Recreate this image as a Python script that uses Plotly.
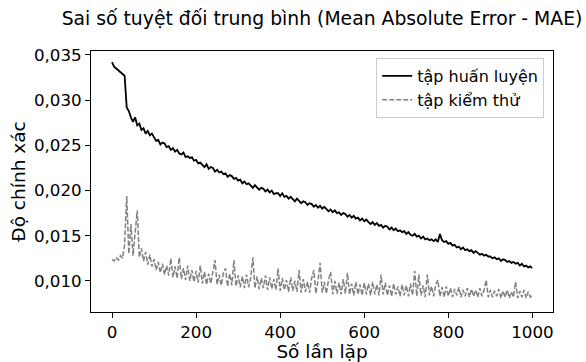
import plotly.graph_objects as go

# Iteration index (sampled every 5 iterations, plus the last one)
iterations = list(range(0, 1000, 5)) + [999]

train_mae = [
    0.0342, 0.0337, 0.0335, 0.0333, 0.0332, 0.0330, 0.0327, 0.0292, 0.0288, 0.0281,
    0.0276, 0.0281, 0.0272, 0.0274, 0.0267, 0.0269, 0.0263, 0.0266, 0.0261, 0.0263,
    0.0259, 0.0255, 0.0256, 0.0251, 0.0253, 0.0252, 0.0248, 0.0249, 0.0245, 0.0247,
    0.0243, 0.0245, 0.0241, 0.0240, 0.0242, 0.0237, 0.0238, 0.0236, 0.0237, 0.0233,
    0.0234, 0.0230, 0.0231, 0.0229, 0.0226, 0.0229, 0.0224, 0.0226, 0.0225, 0.0221,
    0.0223, 0.0220, 0.0221, 0.0218, 0.0219, 0.0215, 0.0217, 0.0216, 0.0213, 0.0214,
    0.0211, 0.0212, 0.0208, 0.0210, 0.0207, 0.0208, 0.0206, 0.0203, 0.0206, 0.0204,
    0.0201, 0.0203, 0.0202, 0.0199, 0.0201, 0.0198, 0.0200, 0.0196, 0.0197, 0.0197,
    0.0194, 0.0197, 0.0193, 0.0194, 0.0191, 0.0193, 0.0190, 0.0188, 0.0191, 0.0189,
    0.0186, 0.0188, 0.0187, 0.0184, 0.0186, 0.0185, 0.0182, 0.0184, 0.0181, 0.0183,
    0.0180, 0.0182, 0.0179, 0.0177, 0.0179, 0.0176, 0.0178, 0.0175, 0.0176, 0.0173,
    0.0175, 0.0174, 0.0171, 0.0173, 0.0170, 0.0172, 0.0169, 0.0170, 0.0167, 0.0169,
    0.0166, 0.0168, 0.0165, 0.0163, 0.0165, 0.0162, 0.0164, 0.0161, 0.0162, 0.0159,
    0.0161, 0.0160, 0.0157, 0.0159, 0.0156, 0.0158, 0.0155, 0.0156, 0.0154, 0.0155,
    0.0152, 0.0154, 0.0151, 0.0150, 0.0152, 0.0149, 0.0150, 0.0147, 0.0149, 0.0146,
    0.0147, 0.0145, 0.0146, 0.0144, 0.0146, 0.0143, 0.0152, 0.0145, 0.0143, 0.0144,
    0.0141, 0.0142, 0.0139, 0.0140, 0.0137, 0.0138, 0.0135, 0.0137, 0.0134, 0.0135,
    0.0133, 0.0134, 0.0131, 0.0133, 0.0131, 0.0129, 0.0130, 0.0128, 0.0129, 0.0127,
    0.0127, 0.0125, 0.0126, 0.0124, 0.0125, 0.0122, 0.0124, 0.0123, 0.0121, 0.0122,
    0.0120, 0.0121, 0.0119, 0.0120, 0.0117, 0.0119, 0.0116, 0.0117, 0.0115, 0.0116,
    0.0114,
]

test_mae = [
    0.0124, 0.0122, 0.0126, 0.0123, 0.0128, 0.0125, 0.0140, 0.0194, 0.0130, 0.0163,
    0.0128, 0.0155, 0.0178, 0.0126, 0.0136, 0.0122, 0.0132, 0.0118, 0.0129, 0.0116,
    0.0124, 0.0112, 0.0121, 0.0109, 0.0119, 0.0107, 0.0117, 0.0106, 0.0125, 0.0104,
    0.0116, 0.0103, 0.0126, 0.0102, 0.0114, 0.0101, 0.0117, 0.0100, 0.0112, 0.0099,
    0.0111, 0.0098, 0.0117, 0.0097, 0.0110, 0.0096, 0.0108, 0.0097, 0.0111, 0.0123,
    0.0096, 0.0107, 0.0095, 0.0109, 0.0114, 0.0094, 0.0108, 0.0095, 0.0123, 0.0094,
    0.0106, 0.0093, 0.0105, 0.0092, 0.0107, 0.0093, 0.0104, 0.0126, 0.0092, 0.0105,
    0.0091, 0.0103, 0.0092, 0.0106, 0.0090, 0.0104, 0.0091, 0.0102, 0.0090, 0.0114,
    0.0089, 0.0103, 0.0090, 0.0101, 0.0088, 0.0104, 0.0089, 0.0100, 0.0088, 0.0112,
    0.0087, 0.0102, 0.0088, 0.0099, 0.0087, 0.0103, 0.0112, 0.0086, 0.0100, 0.0120,
    0.0087, 0.0099, 0.0086, 0.0101, 0.0110, 0.0085, 0.0100, 0.0086, 0.0098, 0.0085,
    0.0102, 0.0086, 0.0109, 0.0085, 0.0097, 0.0084, 0.0099, 0.0085, 0.0096, 0.0084,
    0.0098, 0.0085, 0.0097, 0.0084, 0.0099, 0.0085, 0.0096, 0.0084, 0.0107, 0.0085,
    0.0098, 0.0084, 0.0095, 0.0083, 0.0097, 0.0085, 0.0094, 0.0083, 0.0096, 0.0084,
    0.0095, 0.0083, 0.0097, 0.0084, 0.0111, 0.0083, 0.0107, 0.0084, 0.0095, 0.0082,
    0.0107, 0.0084, 0.0094, 0.0083, 0.0096, 0.0101, 0.0083, 0.0093, 0.0082, 0.0094,
    0.0083, 0.0092, 0.0082, 0.0091, 0.0084, 0.0093, 0.0082, 0.0090, 0.0083, 0.0092,
    0.0082, 0.0091, 0.0083, 0.0090, 0.0082, 0.0092, 0.0083, 0.0090, 0.0101, 0.0082,
    0.0090, 0.0082, 0.0089, 0.0083, 0.0091, 0.0081, 0.0089, 0.0082, 0.0090, 0.0081,
    0.0088, 0.0082, 0.0099, 0.0081, 0.0089, 0.0082, 0.0090, 0.0081, 0.0088, 0.0082,
    0.0084,
]

x_tick_values = [0, 200, 400, 600, 800, 1000]
y_tick_values = [0.010, 0.015, 0.020, 0.025, 0.030, 0.035]
y_tick_labels = ["0,010", "0,015", "0,020", "0,025", "0,030", "0,035"]

FONT = "DejaVu Sans"

fig = go.Figure()
fig.add_trace(go.Scatter(
    x=iterations, y=train_mae, mode="lines", name="tập huấn luyện",
    line=dict(color="black", width=1.8),
))
fig.add_trace(go.Scatter(
    x=iterations, y=test_mae, mode="lines", name="tập kiểm thử",
    line=dict(color="gray", width=1.5, dash="5px,2px"),
))

axis_common = dict(
    showline=True, mirror=True, linecolor="black", linewidth=1,
    ticks="outside", ticklen=5, tickcolor="black", tickwidth=1,
    showgrid=False, zeroline=False, automargin=False,
    tickfont=dict(family=FONT, size=16.7, color="black"),
)

fig.update_layout(
    width=586, height=362, autosize=False,
    margin=dict(l=91, r=33, t=51, b=50),
    paper_bgcolor="white", plot_bgcolor="white",
    font=dict(family=FONT, color="black"),
    title=dict(
        text="Sai số tuyệt đối trung bình (Mean Absolute Error - MAE)",
        font=dict(family=FONT, size=18.8, color="black"),
        x=0.5, xref="paper", xanchor="center",
        y=1 - 18 / 362, yref="container", yanchor="middle",
    ),
    xaxis=dict(
        range=[-49.95, 1048.95], tickvals=x_tick_values,
        title=dict(text="Số lần lặp", font=dict(family=FONT, size=18.5), standoff=4),
        **axis_common,
    ),
    yaxis=dict(
        range=[0.00656, 0.03544], tickvals=y_tick_values, ticktext=y_tick_labels,
        title=dict(text="Độ chính xác", font=dict(family=FONT, size=18.5), standoff=3),
        **axis_common,
    ),
    legend=dict(
        x=0.981, xanchor="right", y=0.973, yanchor="top",
        bgcolor="rgba(255,255,255,0.8)", bordercolor="#cccccc", borderwidth=1,
        font=dict(family=FONT, size=16, color="black"),
    ),
    showlegend=True,
)

fig.write_html("out.html")
